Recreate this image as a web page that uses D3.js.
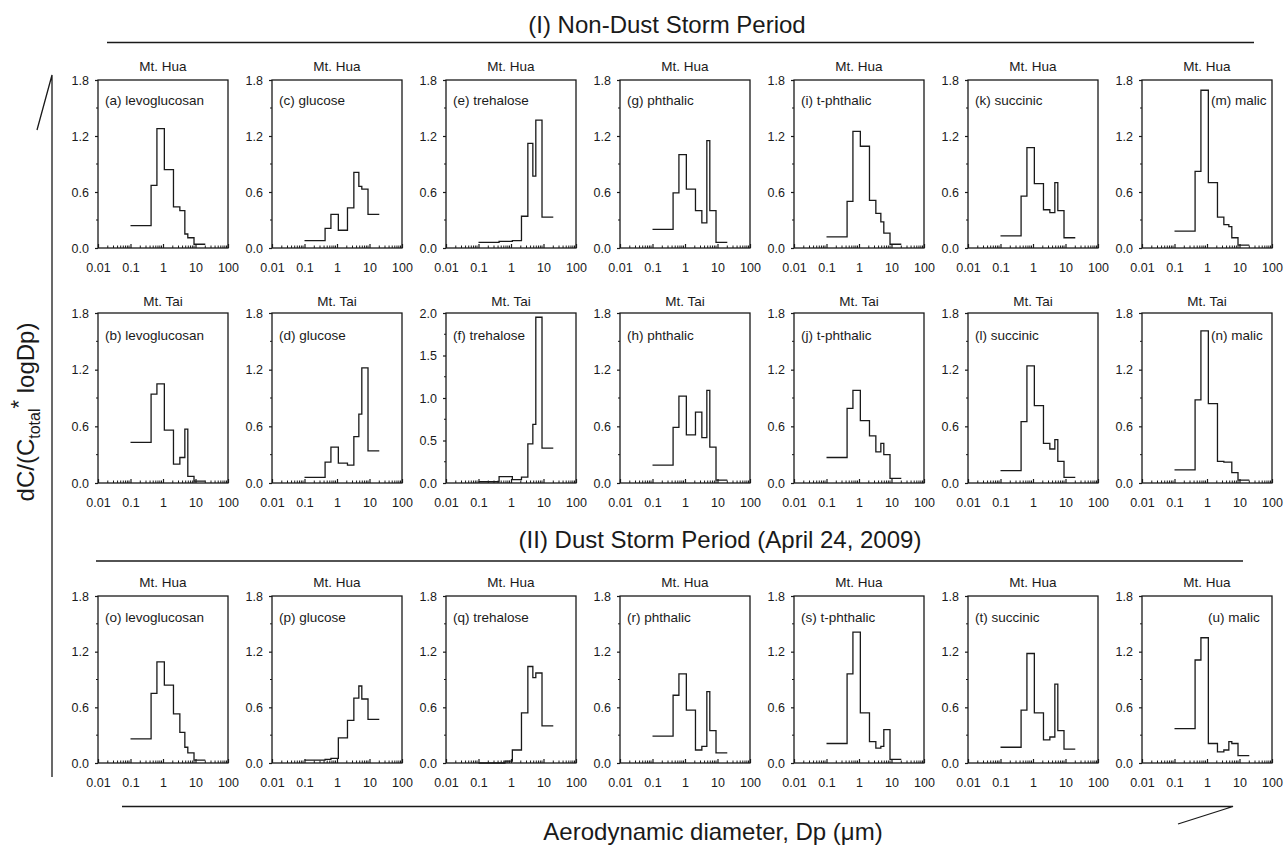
<!DOCTYPE html>
<html>
<head>
<meta charset="utf-8">
<script src="https://cdn.jsdelivr.net/npm/d3@7/dist/d3.min.js"></script>
<style>
  html, body { margin: 0; padding: 0; background: #fff; }
  svg { display: block; font-family: Arial, "Liberation Sans", Helvetica, sans-serif; }
</style>
</head>
<body>
<svg id="chart" width="1284" height="846"></svg>
<script>
// ---------- DATA ----------
const binEdges = [0.1, 0.43, 0.65, 1.1, 2.1, 3.3, 4.7, 5.8, 9.0, 20];
const compounds = ["levoglucosan", "glucose", "trehalose", "phthalic", "t-phthalic", "succinic", "malic"];
const lettersRow1 = ["a", "c", "e", "g", "i", "k", "m"];
const lettersRow2 = ["b", "d", "f", "h", "j", "l", "n"];
const lettersRow3 = ["o", "p", "q", "r", "s", "t", "u"];
const sitesByRow = ["Mt. Hua", "Mt. Tai", "Mt. Hua"];
const xTickValues = [0.01, 0.1, 1, 10, 100];
const xTickLabels = ["0.01", "0.1", "1", "10", "100"];
const yTicksDefault = [0, 0.6, 1.2, 1.8];
const yTicksTrehaloseTai = [0, 0.5, 1.0, 1.5, 2.0];

// (I) Non-dust storm period, Mt. Hua
const levoHuaND    = [0.24, 0.67, 1.28, 0.84, 0.44, 0.40, 0.15, 0.11, 0.04];
const glucHuaND    = [0.08, 0.21, 0.36, 0.19, 0.43, 0.81, 0.66, 0.63, 0.36];
const trehHuaND    = [0.06, 0.07, 0.07, 0.08, 0.34, 1.12, 0.77, 1.37, 0.33];
const phthHuaND    = [0.20, 0.59, 1.00, 0.63, 0.40, 0.27, 1.15, 0.40, 0.06];
const tphthHuaND   = [0.12, 0.50, 1.25, 1.09, 0.51, 0.37, 0.28, 0.16, 0.04];
const succHuaND    = [0.13, 0.555, 1.075, 0.69, 0.41, 0.38, 0.70, 0.40, 0.11];
const malicHuaND   = [0.18, 0.82, 1.69, 0.70, 0.33, 0.25, 0.23, 0.11, 0.03];
// (I) Non-dust storm period, Mt. Tai
const levoTaiND    = [0.43, 0.94, 1.05, 0.56, 0.20, 0.27, 0.57, 0.07, 0.02];
const glucTaiND    = [0.06, 0.22, 0.38, 0.21, 0.19, 0.49, 0.73, 1.22, 0.34];
const trehTaiND    = [0.015, 0.075, 0.075, 0.04, 0.07, 0.46, 0.69, 1.95, 0.41];
const phthTaiND    = [0.19, 0.59, 0.92, 0.51, 0.75, 0.48, 0.98, 0.38, 0.03];
const tphthTaiND   = [0.27, 0.79, 0.98, 0.66, 0.50, 0.33, 0.42, 0.30, 0.05];
const succTaiND    = [0.13, 0.65, 1.24, 0.82, 0.42, 0.36, 0.46, 0.23, 0.06];
const malicTaiND   = [0.14, 0.88, 1.61, 0.84, 0.23, 0.22, 0.22, 0.11, 0.03];
// (II) Dust storm period, Mt. Hua
const levoHuaDS    = [0.26, 0.75, 1.09, 0.84, 0.53, 0.33, 0.17, 0.11, 0.03];
const glucHuaDS    = [0.03, 0.04, 0.05, 0.27, 0.46, 0.70, 0.83, 0.69, 0.47];
const trehHuaDS    = [0.00, 0.00, 0.02, 0.14, 0.54, 1.04, 0.92, 0.97, 0.40];
const phthHuaDS    = [0.29, 0.73, 0.96, 0.57, 0.14, 0.18, 0.77, 0.35, 0.11];
const tphthHuaDS   = [0.21, 0.96, 1.41, 0.54, 0.23, 0.16, 0.18, 0.36, 0.04];
const succHuaDS    = [0.17, 0.57, 1.18, 0.54, 0.25, 0.28, 0.85, 0.35, 0.15];
const malicHuaDS   = [0.37, 1.11, 1.35, 0.21, 0.12, 0.14, 0.23, 0.21, 0.08];

const rowsData = [
  [levoHuaND, glucHuaND, trehHuaND, phthHuaND, tphthHuaND, succHuaND, malicHuaND],
  [levoTaiND, glucTaiND, trehTaiND, phthTaiND, tphthTaiND, succTaiND, malicTaiND],
  [levoHuaDS, glucHuaDS, trehHuaDS, phthHuaDS, tphthHuaDS, succHuaDS, malicHuaDS]
];
const rowsLetters = [lettersRow1, lettersRow2, lettersRow3];

// ---------- LAYOUT ----------
const svg = d3.select("#chart");
const colLeft0 = 98, colPitch = 174, panelW = 130;
const rowGeom = [
  { top: 80, bottom: 248, titleOff: 9, labelOff: 25 },
  { top: 313, bottom: 483, titleOff: 7, labelOff: 27 },
  { top: 596, bottom: 763, titleOff: 9, labelOff: 26 }
];
const ink = "#1a1a1a";

rowsData.forEach((row, r) => {
  const g0 = rowGeom[r];
  row.forEach((vals, c) => {
    const left = colLeft0 + c * colPitch;
    const right = left + panelW;
    const isTreTai = (r === 1 && c === 2);
    const yMax = isTreTai ? 2.0 : 1.8;
    const yTicks = isTreTai ? yTicksTrehaloseTai : yTicksDefault;

    const x = d3.scaleLog().domain([0.01, 100]).range([left, right]);
    const y = d3.scaleLinear().domain([0, yMax]).range([g0.bottom, g0.top]);

    const g = svg.append("g");

    // frame
    g.append("rect")
      .attr("x", left).attr("y", g0.top)
      .attr("width", right - left).attr("height", g0.bottom - g0.top)
      .attr("fill", "none").attr("stroke", ink).attr("stroke-width", 1.3);

    // y axis
    const yAxis = d3.axisLeft(y).tickValues(yTicks)
      .tickFormat(d3.format(".1f")).tickSize(3).tickPadding(6);
    const ya = g.append("g").attr("transform", `translate(${left},0)`).call(yAxis);
    ya.select(".domain").remove();
    ya.selectAll("line").attr("stroke", ink).attr("stroke-width", 1.2);
    ya.selectAll("text").attr("font-size", 12.5).attr("fill", ink);
    // y minor ticks
    const yMinor = d3.range(0, yTicks.length - 1).map(i => (yTicks[i] + yTicks[i + 1]) / 2);
    g.selectAll(".ymin").data(yMinor).join("line")
      .attr("x1", left - 2).attr("x2", left)
      .attr("y1", d => y(d)).attr("y2", d => y(d))
      .attr("stroke", ink).attr("stroke-width", 1);

    // x axis
    const xAxis = d3.axisBottom(x).tickValues(xTickValues)
      .tickFormat((d, i) => xTickLabels[i]).tickSizeInner(-4).tickSizeOuter(0).tickPadding(15);
    const xa = g.append("g").attr("transform", `translate(0,${g0.bottom})`).call(xAxis);
    xa.select(".domain").remove();
    xa.selectAll("line").attr("stroke", ink).attr("stroke-width", 1.2);
    xa.selectAll("text").attr("font-size", 12.5).attr("fill", ink);
    // x minor ticks
    const xMinor = [];
    [0.01, 0.1, 1, 10].forEach(dec => { for (let k = 2; k <= 9; k++) xMinor.push(dec * k); });
    g.selectAll(".xmin").data(xMinor).join("line")
      .attr("x1", d => x(d)).attr("x2", d => x(d))
      .attr("y1", g0.bottom).attr("y2", g0.bottom - 2.5)
      .attr("stroke", ink).attr("stroke-width", 1);

    // step histogram
    const pts = binEdges.map((e, i) => [e, vals[Math.min(i, vals.length - 1)]]);
    const line = d3.line().x(d => x(d[0])).y(d => y(d[1])).curve(d3.curveStepAfter);
    g.append("path").attr("d", line(pts))
      .attr("fill", "none").attr("stroke", ink).attr("stroke-width", 1.3);

    // site title
    g.append("text")
      .attr("x", (left + right) / 2).attr("y", g0.top - g0.titleOff)
      .attr("text-anchor", "middle").attr("font-size", 13.5).attr("fill", ink)
      .text(sitesByRow[r]);

    // panel label
    const isMalic = c === 6;
    g.append("text")
      .attr("x", isMalic ? left + (r === 2 ? 66 : 69) : left + 7)
      .attr("y", g0.top + g0.labelOff)
      .attr("font-size", 13.5).attr("fill", ink)
      .text(`(${rowsLetters[r][c]}) ${compounds[c]}`);
  });
});

// ---------- SECTION HEADERS & DECORATIONS ----------
svg.append("text").attr("x", 667).attr("y", 33).attr("text-anchor", "middle")
  .attr("font-size", 24).attr("fill", ink).text("(I) Non-Dust Storm Period");
svg.append("line").attr("x1", 107).attr("x2", 1254).attr("y1", 42.5).attr("y2", 42.5)
  .attr("stroke", ink).attr("stroke-width", 1.3);

svg.append("text").attr("x", 720).attr("y", 548).attr("text-anchor", "middle")
  .attr("font-size", 24).attr("fill", ink).text("(II) Dust Storm Period (April 24, 2009)");
svg.append("line").attr("x1", 96).attr("x2", 1243).attr("y1", 561).attr("y2", 561)
  .attr("stroke", ink).attr("stroke-width", 1.3);

// bottom x-title with arrow-like line
svg.append("path").attr("d", "M122,806.5 L1233,806.5 L1178,824")
  .attr("fill", "none").attr("stroke", ink).attr("stroke-width", 1.3);
svg.append("text").attr("x", 713).attr("y", 840).attr("text-anchor", "middle")
  .attr("font-size", 24).attr("fill", ink).text("Aerodynamic diameter, Dp (μm)");

// left y-title with arrow-like line
svg.append("path").attr("d", "M37,130 L52,75 L52,777")
  .attr("fill", "none").attr("stroke", ink).attr("stroke-width", 1.3);
const yt = svg.append("text").attr("transform", "translate(34,412) rotate(-90)")
  .attr("text-anchor", "middle").attr("font-size", 24).attr("fill", ink);
yt.append("tspan").text("dC/(C");
yt.append("tspan").attr("font-size", 16).attr("dy", 6).text("total");
yt.append("tspan").attr("font-size", 22).attr("dy", -14).text("*");
yt.append("tspan").attr("dy", 8).text(" logDp)");
</script>
</body>
</html>
